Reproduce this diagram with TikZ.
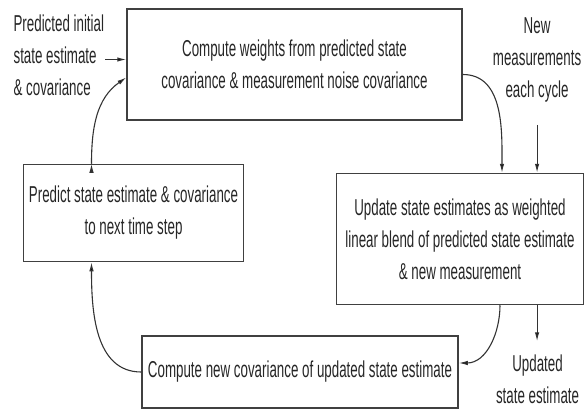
\documentclass[tikz,border=0pt]{standalone}
\usepackage{fontspec}
\setmainfont{Liberation Sans}[FakeStretch=0.58]
\usetikzlibrary{positioning, arrows.meta}

\begin{document}
\begin{tikzpicture}[x=1pt, y=1pt,
    every node/.style={font=\fontsize{23}{32}\selectfont, text=black!85},
    procbox/.style={draw=black!75, line width=1.5pt, rectangle, align=center, inner sep=0pt},
    lbl/.style={inner sep=1pt},
    flow/.style={-{Latex[length=9pt,width=4.5pt]}, line width=1.1pt, draw=black!80}]

    \useasboundingbox (0,0) rectangle (586,-409);

    \node[procbox, minimum width=335pt, minimum height=111pt] (cw) at (294.5,-64.5)
        {Compute weights from predicted state\\covariance \& measurement noise covariance};

    \node[procbox, minimum width=247pt, minimum height=131pt] (ud) [below right=52pt and -127pt of cw]
        {Update state estimates as weighted\\linear blend of predicted state estimate\\\& new measurement};
    \node[procbox, minimum width=316pt, minimum height=72pt]  (nc) [below left=30pt and -123pt of ud]
        {Compute new covariance of updated state estimate};
    \node[procbox, minimum width=220pt, minimum height=97pt]  (pr) [below left=43pt and -118pt of cw]
        {Predict state estimate \& covariance\\to next time step};

    \node[lbl, align=left]   (init) [left=21pt of cw, yshift=9pt]
        {Predicted initial\\state estimate\\\& covariance};
    \node[lbl, align=center] (nm)   [right=29pt of cw, yshift=5pt]
        {New\\measurements\\each cycle};
    \node[lbl, align=center] (upd)  [below left=48pt and 4pt of ud.south east]
        {Updated\\state estimate};

    \path[flow]
    ([yshift=-4pt]init.east) edge ([yshift=-4pt]init.east -| cw.west)
    ([yshift=-10pt]cw.east)  edge [out=0, in=90]    ([xshift=42pt]ud.north)
    ([yshift=-22pt]nm.south) edge                   (nm.south |- ud.north)
    ([xshift=40pt]ud.south)  edge [out=-90, in=0]   ([yshift=9pt]nc.east)
    (nm.south |- ud.south)   edge                   ([yshift=12pt]nm.south |- upd.north)
    (nc.west)                edge [out=180, in=-90] ([xshift=-42pt]pr.south)
    ([xshift=-42pt]pr.north) edge [out=90, in=215]  ([yshift=-13pt]cw.west);
\end{tikzpicture}
\end{document}
